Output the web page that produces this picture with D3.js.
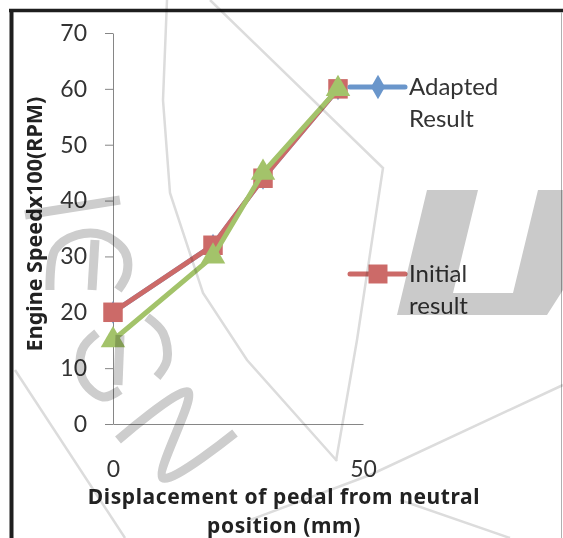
<!DOCTYPE html>
<html>
<head>
<meta charset="utf-8">
<script src="https://cdn.jsdelivr.net/npm/d3@7"></script>
<style>
  html, body { margin: 0; padding: 0; background: #fff; }
  svg { display: block; }
  text { font-family: Lato, "Noto Sans", sans-serif; }
</style>
</head>
<body>
<svg id="chart" width="563" height="538"></svg>
<script>
// ---- data ----
const displacement = [0, 20, 30, 45];
const adaptedResult = [20, 32, 44, 60];
const initialResult = [20, 32, 44, 60];
const thirdSeries = [15, 30, 45, 60];
const yTicks = [0, 10, 20, 30, 40, 50, 60, 70];
const xTicks = [0, 50];
const seriesNames = ["Adapted Result", "Initial result"];
const xTitle = ["Displacement of pedal from neutral", "position (mm)"];
const yTitle = "Engine Speedx100(RPM)";

const svg = d3.select("#chart");
const W = 563, H = 538;
svg.append("rect").attr("width", W).attr("height", H).attr("fill", "#fff");

const x = d3.scaleLinear().domain([0, 50]).range([113, 363]);
const y = d3.scaleLinear().domain([0, 70]).range([424, 33]);

const axisColor = "#868686";
const textColor = "#333";
const titleFont = "'Noto Sans', 'DejaVu Sans', sans-serif";

// frame
svg.append("line").attr("x1", 9).attr("x2", W).attr("y1", 10.5).attr("y2", 10.5)
  .attr("stroke", "#1e1e1e").attr("stroke-width", 3.5);
svg.append("line").attr("x1", 11.5).attr("x2", 11.5).attr("y1", 9).attr("y2", H)
  .attr("stroke", "#1e1e1e").attr("stroke-width", 4);
svg.append("line").attr("x1", 561.5).attr("x2", 561.5).attr("y1", 12).attr("y2", H)
  .attr("stroke", "#b0b0b0").attr("stroke-width", 1);

// axes
const yAxis = d3.axisLeft(y).tickValues(yTicks).tickSize(8).tickSizeOuter(0).tickPadding(18);
const gy = svg.append("g").attr("transform", "translate(113,0)").call(yAxis);
gy.selectAll("path, line").attr("stroke", axisColor);
gy.selectAll("text").attr("fill", textColor).style("font-size", "23px")
  .style("font-family", "Lato, sans-serif");

const xAxis = d3.axisBottom(x).tickValues(xTicks).tickSize(0).tickSizeOuter(0);
const gx = svg.append("g").attr("transform", "translate(0,424)").call(xAxis);
gx.selectAll("path, line").attr("stroke", axisColor);
gx.selectAll("text").attr("fill", textColor).style("font-size", "23px")
  .style("font-family", "Lato, sans-serif").attr("dy", 0).attr("y", 53);

// series
const line = d3.line().x((d, i) => x(displacement[i])).y(d => y(d));

function drawSeries(values, color, shape, size) {
  const g = svg.append("g");
  g.append("path").datum(values).attr("d", line).attr("fill", "none")
    .attr("stroke", color).attr("stroke-width", 5).attr("stroke-linejoin", "round");
  g.selectAll("path.m").data(values).join("path").attr("class", "m")
    .attr("transform", (d, i) => `translate(${x(displacement[i])},${y(d)})`)
    .attr("d", d3.symbol().type(shape).size(size)).attr("fill", color);
}
const blue = "#6a96cb", red = "#cc6a68", green = "#a3c36a";
drawSeries(adaptedResult, blue, d3.symbolDiamond, 150);
drawSeries(initialResult, red, d3.symbolSquare, 380);
drawSeries(thirdSeries, green, d3.symbolTriangle, 260);

// legend
const legend = [
  { name: seriesNames[0], color: blue, shape: d3.symbolDiamond, size: 170, ly: 87, lines: ["Adapted", "Result"] },
  { name: seriesNames[1], color: red, shape: d3.symbolSquare, size: 360, ly: 274, lines: ["Initial", "result"] }
];
legend.forEach(e => {
  const g = svg.append("g");
  g.append("line").attr("x1", 350).attr("x2", 405).attr("y1", e.ly).attr("y2", e.ly)
    .attr("stroke", e.color).attr("stroke-width", 5).attr("stroke-linecap", "round");
  g.append("path").attr("transform", `translate(378,${e.ly})`)
    .attr("d", d3.symbol().type(e.shape).size(e.size)).attr("fill", e.color);
  const t = g.append("text").attr("x", 409).attr("y", e.ly + 8).attr("fill", textColor)
    .style("font-size", "24px");
  e.lines.forEach((s, i) => t.append("tspan").attr("x", 409).attr("dy", i ? 32 : 0).text(s));
});

// axis titles
xTitle.forEach((s, i) => svg.append("text").attr("text-anchor", "middle").attr("fill", "#222")
  .style("font-size", "21px").style("font-weight", "bold").style("font-family", titleFont)
  .style("letter-spacing", "0.6px")
  .attr("x", 284).attr("y", 504 + i * 29).text(s));

svg.append("text").attr("transform", "translate(42,224) rotate(-90)")
  .attr("text-anchor", "middle").attr("fill", "#222")
  .style("font-size", "21.5px").style("font-weight", "bold").style("font-family", titleFont)
  .text(yTitle);

// watermark overlay
const wm = svg.append("g").style("mix-blend-mode", "multiply");
const thin = [
  [[167, 0], [163, 100], [170, 193], [203, 293], [247, 360], [337, 461]],
  [[210, 0], [383, 168], [357, 340], [336, 461]],
  [[15, 370], [125, 538]],
  [[563, 385], [370, 475], [250, 520]],
  [[400, 500], [510, 538]]
];
thin.forEach(p => wm.append("path").attr("d", d3.line()(p)).attr("fill", "none")
  .attr("stroke", "#dcdcdc").attr("stroke-width", 2.5));
const thick = [
  [[25, 215], [120, 200]],
  [[50, 290], [55, 250], [77, 235], [103, 235], [125, 252], [127, 273], [118, 290]],
  [[95, 240], [92, 290]],
  [[97, 333], [82, 350], [83, 380], [103, 397], [120, 390]],
  [[147, 317], [163, 333], [167, 360], [157, 377]],
  [[120, 335], [118, 385]],
  [[118, 440], [188, 392], [163, 478], [235, 433]]
];
thick.forEach(p => wm.append("path").attr("d", d3.line().curve(d3.curveCatmullRom)(p))
  .attr("fill", "none").attr("stroke", "#cdcdcd").attr("stroke-width", 9)
  .attr("stroke-linejoin", "round"));
wm.append("path")
  .attr("d", d3.line()([[427, 190], [478, 190], [453, 293], [513, 293], [538, 190], [563, 190], [563, 290], [547, 315], [397, 315]]) + "Z")
  .attr("fill", "#cacaca");
</script>
</body>
</html>
